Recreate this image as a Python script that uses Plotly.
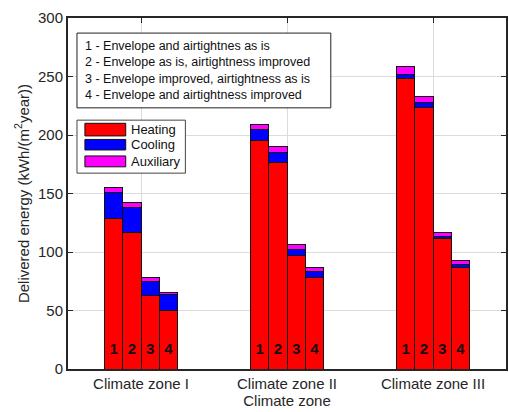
import plotly.graph_objects as go

zones = ["Climate zone I", "Climate zone II", "Climate zone III"]
options = ["1", "2", "3", "4"]

# values per zone, per option (kWh/(m2 year))
heating = [[129, 116.5, 62.7, 50.4],
           [195.1, 176.3, 97.2, 78.4],
           [248, 223.7, 111.4, 86.6]]
cooling = [[22, 21.5, 12.5, 13.1],
           [9.2, 8.9, 5.1, 5.1],
           [4, 3.7, 2.0, 2.9]]
auxiliary = [[4, 4.5, 3.1, 2.3],
             [5.1, 4.8, 3.7, 3.4],
             [6.4, 5.6, 3.6, 3.4]]

series_names = ["Heating", "Cooling", "Auxiliary"]
series_colors = ["#ff0000", "#0000ff", "#ff00ff"]

scenario_text = ("1 - Envelope and airtightnes as is<br>"
                 "2 - Envelope as is, airtightness improved<br>"
                 "3 - Envelope improved, airtightness as is<br>"
                 "4 - Envelope and airtightness improved")

FONT = "Liberation Sans"
bw = 0.125
xs = []
for zi in range(len(zones)):
    for oi in range(len(options)):
        xs.append(zi + 1 + (oi - 1.5) * bw)

def flat(a):
    return [v for row in a for v in row]

fig = go.Figure()
for name, vals, col in zip(series_names, [heating, cooling, auxiliary], series_colors):
    fig.add_trace(go.Bar(x=xs, y=flat(vals), width=bw, name=name, showlegend=False,
                         marker=dict(color=col, line=dict(color="#111111", width=1))))

labels = options * len(zones)
fig.add_trace(go.Scatter(x=xs, y=[16] * len(xs), mode="text", text=labels,
                         textfont=dict(family=FONT, size=15, color="#111111"),
                         texttemplate="<b>%{text}</b>", showlegend=False, hoverinfo="skip"))

# scenario text box
fig.add_shape(type="rect", xref="paper", yref="paper", x0=0.0205, x1=0.6, y0=0.744, y1=0.957,
              line=dict(color="#222222", width=1), fillcolor="white", layer="above")
fig.add_annotation(xref="paper", yref="paper", x=0.034, y=0.851, xanchor="left", yanchor="middle",
                   text=scenario_text, showarrow=False, align="left",
                   font=dict(family=FONT, size=12.5, color="#111111"))

# manual legend
fig.add_shape(type="rect", xref="paper", yref="paper", x0=0.0205, x1=0.268, y0=0.558, y1=0.709,
              line=dict(color="#444444", width=1), fillcolor="white", layer="above")
sw_y = [(0.664, 0.700), (0.624, 0.654), (0.576, 0.607)]
txt_y = [0.682, 0.639, 0.592]
for name, col, (y0, y1), ty in zip(series_names, series_colors, sw_y, txt_y):
    fig.add_shape(type="rect", xref="paper", yref="paper", x0=0.0386, x1=0.1318, y0=y0, y1=y1,
                  line=dict(color="#111111", width=1), fillcolor=col, layer="above")
    fig.add_annotation(xref="paper", yref="paper", x=0.139, y=ty, xanchor="left", yanchor="middle",
                       text=name, showarrow=False,
                       font=dict(family=FONT, size=13, color="#111111"))

fig.update_layout(
    width=509, height=412,
    margin=dict(l=68, r=1, t=18, b=43),
    barmode="stack",
    plot_bgcolor="white", paper_bgcolor="white",
    font=dict(family=FONT, size=15, color="#262626"),
    showlegend=False,
    xaxis=dict(range=[0.5, 3.5], tickvals=[1, 2, 3], ticktext=zones,
               tickfont=dict(size=15),
               showgrid=True, gridcolor="#dcdcdc", gridwidth=1,
               showline=True, linecolor="#262626", linewidth=2, mirror="ticks",
               ticks="inside", ticklen=5, tickcolor="#262626",
               title=dict(text="Climate zone", standoff=2, font=dict(size=15)), zeroline=False),
    yaxis=dict(range=[0, 300], tickvals=[0, 50, 100, 150, 200, 250, 300],
               tickfont=dict(size=15),
               showgrid=True, gridcolor="#dcdcdc", gridwidth=1,
               showline=True, linecolor="#262626", linewidth=2, mirror="ticks",
               ticks="inside", ticklen=5, tickcolor="#262626",
               title=dict(text="Delivered energy (kWh/(m<sup>2</sup>year))", standoff=5,
                          font=dict(size=15)),
               zeroline=False),
)

fig.write_html("out.html")
